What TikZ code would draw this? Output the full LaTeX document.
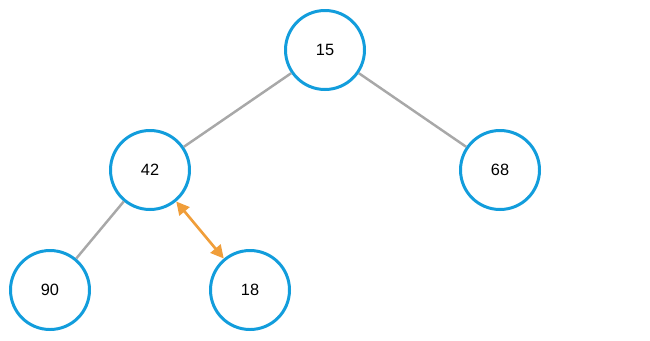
\documentclass[tikz,border=0pt]{standalone}
\usepackage{fontspec}
\setmainfont{Liberation Sans}
\usetikzlibrary{arrows.meta,positioning}
\definecolor{heapblue}{RGB}{18,157,220}
\definecolor{edgegray}{RGB}{168,168,168}
\definecolor{swaporange}{RGB}{240,158,58}

\begin{document}
\begin{tikzpicture}[
      font=\fontsize{9.3}{11}\selectfont,
      node distance=2.4cm and 3.5cm, on grid,
      heap/.style={circle, draw=heapblue, line width=1.7pt, fill=white,
                   minimum size=1.58cm, inner sep=0pt},
      edge/.style={draw=edgegray, line width=1.4pt},
      swp/.style={{Triangle[length=2.6mm,width=2.6mm]}-{Triangle[length=2.6mm,width=2.6mm]},
                  swaporange, line width=1.5pt}
    ]
    \useasboundingbox (0,0) rectangle (13,6.8);
    \node[heap] (n15) at (6.5,5.8) {15};
    \node[heap, below left=of n15] (n42) {42};
    \node[heap, below right=of n15] (n68) {68};
    \node[heap, below left=2.4cm and 2cm of n42] (n90) {90};
    \node[heap, below right=2.4cm and 2cm of n42] (n18) {18};

    \foreach \a/\b in {n15/n42, n15/n68, n42/n90}
      \draw[edge] (\a) -- (\b);

    % swap between parent and child
    \draw[swp] (n42) -- (n18);
  \end{tikzpicture}
\end{document}
